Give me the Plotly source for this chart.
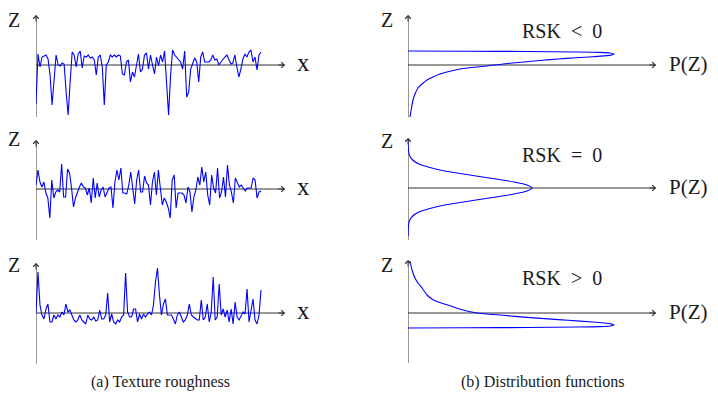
import plotly.graph_objects as go

# page has an 8px body margin: figure drawn 8px in from the window corner
OFF = 8
W, H = 718 - 2 * OFF, 403 - 2 * OFF

# ---- data (units ~ pixels above the mean line) ----
profile_neg = [-39, 11, -2, 8, 9, 10, 6, -10, -40, -14, 10, 0, -1, 2, 1, -27, -50, -17, 13, 10,
               -2, 11, 14, -3, 9, 8, 10, 7, 8, 5, -10, 8, 10, -2, -40, 0, 3, 10, 8, 10,
               8, 10, 9, -9, -10, 3, 5, -17, -7, -12, -2, 11, -7, -4, 10, 12,
               -4, 10, 0, -9, 8, -1, 10, 3, 14, -17, -50, -10, 15, 10, 8, 6, 3, -4, 14, -32,
               -27, -4, 1, 7, 3, -17, 8, 13, 3, 3, 3, 5, 10, 5, 6, 0, 3, 5, 8, 10,
               6, 1, 2, 10, -2, -12, -4, 6, 11, 8, 13, 15, 3, 8, -5, 10, 13]
profile_sym = [4, 19, 7, 2, 7, -4, -9, -29, 9, -9, -3, -1, -3, 25, -8, -8, 20, 16, 1, -18,
               -9, -3, 2, 6, 2, 1, -6, 1, -14, 11, -9, 6, -8, -1, 2, -8, -4, 1, 2, -19,
               7, 19, 9, 21, -4, -4, -5, 4, 17, 1, -15, 9, 19, -3, -3, 13, 6, 4,
               -16, 7, 17, -6, 19, 1, -16, -9, -13, -19, -29, 9, 14, -19, -4, -4, -4, -6, -14, 2,
               -3, -23, -8, -1, 12, 4, 22, 7, 17, -6, -16, 14, 1, -4, 21, -9, -3, 12, -8, 24,
               4, -3, -14, 11, 6, 2, 4, 1, -2, 1, 1, 1, 11, 9, -9, -3, -2]
profile_pos = [0, 41, 8, -2, -6, 4, 9, -9, -9, -2, -6, -2, -4, 1, -2, 9, 1, 3, -2, -7,
               -9, -7, -2, -7, -9, -11, -2, -6, -7, -4, -8, -7, 3, -6, -6, -2, 20, -9, -1, -9,
               -11, -7, -9, -4, -2, 40, 1, -4, -4, 4, 4, -9, -1, -6, -1, -4, -1,
               1, -2, 8, 31, 45, 18, -2, 9, 14, -2, -2, -2, -6, -11, -2, 1, -4, -9, -7, -2,
               9, -2, -4, -6, -7, -7, 13, -7, -4, 9, -9, 1, 36, -7, -4, 29, -2, 4, -4, 3,
               -9, 4, -11, 11, -4, -7, -2, 1, -1, 24, -9, 4, 14, -7, -11, -2, 23]

pdf_neg_p = [0, 60, 120, 170, 192, 202, 206, 203, 196, 185, 168, 150, 134, 119, 95, 79, 64, 52,
             41, 32, 25, 19, 14, 10, 7, 5, 3.5, 2]
pdf_neg_z = [14, 13.8, 13.5, 13, 12.6, 12, 10.8, 9.9, 9.1, 8.3, 7.2, 6, 4.7, 3.3, 1, -1, -2.5, -4,
             -6.5, -9, -12, -15, -19, -23, -29, -35, -43, -52]
pdf_sym_p = [0.1, 0.3, 0.6, 1.8, 4.7, 11, 20, 32, 49, 68, 88, 106, 119, 124,
             119, 106, 88, 68, 49, 32, 20, 11, 4.7, 1.8, 0.6, 0.3, 0.1]
pdf_sym_z = [48, 40, 36, 32, 28, 24, 21, 18, 15, 12, 9, 6, 3, 0,
             -3, -6, -9, -12, -15, -18, -21, -24, -28, -32, -36, -40, -48]
pdf_pos_p = [0, 60, 120, 170, 192, 202, 206, 203, 196, 185, 160, 140, 119, 95, 69, 53, 39, 31,
             25, 19, 14, 10, 7, 4, 2]
pdf_pos_z = [-15, -14.8, -14.5, -14, -13.6, -13, -11.7, -10.9, -10, -9, -7.3, -5.9, -4.4, -2.3, 0,
             3.5, 8.3, 10.8, 13.3, 18, 25, 30, 35, 43, 52]

profiles = [profile_neg, profile_sym, profile_pos]
pdfs = [(pdf_neg_p, pdf_neg_z), (pdf_sym_p, pdf_sym_z), (pdf_pos_p, pdf_pos_z)]
rsk_labels = ["RSK\u2002<\u20020", "RSK\u2002=\u20020", "RSK\u2002>\u20020"]
captions = ["(a) Texture roughness", "(b) Distribution functions"]
axis_label_z = "Z"
axis_label_x = "x"
axis_label_p = "P(Z)"

FONT = "Liberation Serif"
AX = "#333333"
BLUE = "#0000ff"
TXT = "#1a1a1a"

rows_a = [(15, 117, 65), (140, 240, 189), (263, 364, 313)]
rows_b = [(15, 117, 65), (138, 240, 188), (260, 363, 313)]
a_x0, a_xend, a_dataend = 36, 285, 261
b_x0, b_xend = 408, 656


def pxx(x):
    return (x - OFF) / W


def pxy(y):
    return 1 - (y - OFF) / H


fig = go.Figure()
layout = dict(width=W, height=H, margin=dict(l=0, r=0, t=0, b=0),
              paper_bgcolor="white", plot_bgcolor="rgba(0,0,0,0)", showlegend=False)
shapes, annots = [], []


def add_axes(k, xdom, xrange_, top, bottom, base):
    xa = "xaxis" if k == 1 else f"xaxis{k}"
    ya = "yaxis" if k == 1 else f"yaxis{k}"
    xr = "x" if k == 1 else f"x{k}"
    yr = "y" if k == 1 else f"y{k}"
    yrange = [-(bottom - base), base - top]
    layout[xa] = dict(domain=[pxx(xdom[0]), pxx(xdom[1])], range=xrange_, visible=False,
                      anchor=yr, fixedrange=True)
    layout[ya] = dict(domain=[pxy(bottom), pxy(top)], range=yrange, visible=False,
                      anchor=xr, fixedrange=True)
    shapes.append(dict(type="line", xref=xr, yref=yr, x0=xrange_[0], x1=xrange_[1], y0=0, y1=0,
                       line=dict(color=AX, width=1), layer="below"))
    shapes.append(dict(type="line", xref=xr, yref=yr, x0=0, x1=0, y0=yrange[0], y1=yrange[1],
                       line=dict(color=AX, width=1), layer="below"))
    annots.append(dict(xref=xr, yref=yr, x=xrange_[1], y=0, ax=-8, ay=0, text="",
                       showarrow=True, arrowhead=4, arrowsize=1.1, arrowwidth=1,
                       arrowcolor=AX, standoff=0))
    annots.append(dict(xref=xr, yref=yr, x=0, y=yrange[1], ax=0, ay=8, text="",
                       showarrow=True, arrowhead=4, arrowsize=1.1, arrowwidth=1,
                       arrowcolor=AX, standoff=0))
    return xr, yr


for i in range(3):
    top, bottom, base = rows_a[i]
    vals = profiles[i]
    n = len(vals)
    xmax = (n - 1) * (a_xend - a_x0) / (a_dataend - a_x0)
    xr, yr = add_axes(2 * i + 1, (a_x0, a_xend), [0, xmax], top, bottom, base)
    fig.add_trace(go.Scatter(x=list(range(n)), y=vals, mode="lines", xaxis=xr, yaxis=yr,
                             line=dict(color=BLUE, width=1.1), hoverinfo="skip"))

    top, bottom, base = rows_b[i]
    xr, yr = add_axes(2 * i + 2, (b_x0, b_xend), [0, b_xend - b_x0], top, bottom, base)
    p, z = pdfs[i]
    fig.add_trace(go.Scatter(x=p, y=z, mode="lines", xaxis=xr, yaxis=yr,
                             line=dict(color=BLUE, width=1.1, shape="spline", smoothing=0.6),
                             hoverinfo="skip"))


def label(text, x, y, size):
    annots.append(dict(xref="paper", yref="paper", x=pxx(x), y=pxy(y), text=text,
                       showarrow=False, xanchor="center", yanchor="middle",
                       font=dict(family=FONT, size=size, color=TXT)))


z_a = [20, 139, 265]
z_b = [20, 141, 265]
for i in range(3):
    label(axis_label_z, 14, z_a[i], 20)
    label(axis_label_x, 303, rows_a[i][2] - 3, 25)
    label(axis_label_z, 387, z_b[i], 20)
    label(axis_label_p, 688, rows_b[i][2] - 1, 21)
label(rsk_labels[0], 562, 31, 20)
label(rsk_labels[1], 562, 155, 20)
label(rsk_labels[2], 562, 278, 20)
label(captions[0], 160, 382, 16)
label(captions[1], 543, 382, 16)

layout["shapes"] = shapes
layout["annotations"] = annots
fig.update_layout(**layout)
fig.write_html("out.html")
